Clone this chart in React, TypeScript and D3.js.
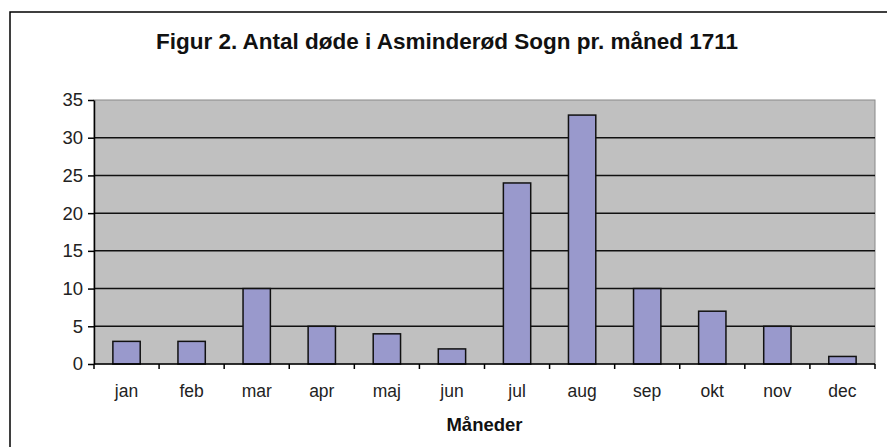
import { useEffect, useRef } from "react";
import * as d3 from "d3";

const months = ["jan", "feb", "mar", "apr", "maj", "jun", "jul", "aug", "sep", "okt", "nov", "dec"];
const deaths = [3, 3, 10, 5, 4, 2, 24, 33, 10, 7, 5, 1];
const yTicks = [0, 5, 10, 15, 20, 25, 30, 35];

const title = "Figur 2. Antal døde i Asminderød Sogn pr. måned 1711";
const xTitle = "Måneder";

const width = 887;
const height = 447;

const marginTop = 100;
const marginBottom = 83;
const marginLeft = 94;
const marginRight = 12;

const font = "Liberation Sans, Arial, sans-serif";

const App = () => {
  const xAxisRef = useRef<SVGGElement>(null);
  const yAxisRef = useRef<SVGGElement>(null);

  const chartBottomY = height - marginBottom;

  const xScale = d3.scaleBand().domain(months).range([marginLeft, width - marginRight]);
  const bandPad = 0.29;

  const yScale = d3.scaleLinear().domain([0, 35]).range([chartBottomY, marginTop]);

  useEffect(() => {
    // x axis: ticks sit on the category boundaries, labels in the middle
    const gx = d3.select(xAxisRef.current);
    gx.selectAll("*").remove();
    gx.append("line")
      .attr("x1", marginLeft)
      .attr("x2", width - marginRight)
      .attr("stroke", "#000")
      .attr("stroke-width", 1.5);
    const bounds = months.map((m) => xScale(m) as number).concat([width - marginRight]);
    gx.selectAll(".tick")
      .data(bounds)
      .join("line")
      .attr("x1", (d) => d)
      .attr("x2", (d) => d)
      .attr("y1", 0)
      .attr("y2", 5)
      .attr("stroke", "#000")
      .attr("stroke-width", 1.5);
    gx.selectAll(".lbl")
      .data(months)
      .join("text")
      .attr("x", (d) => (xScale(d) as number) + xScale.bandwidth() / 2)
      .attr("y", 33)
      .attr("text-anchor", "middle")
      .attr("font-size", 17.5)
      .attr("font-family", font)
      .attr("fill", "#222")
      .text((d) => d);

    const yAxis = d3.axisLeft(yScale).tickValues(yTicks).tickSize(6).tickSizeOuter(0).tickPadding(5);
    const gy = d3.select(yAxisRef.current);
    gy.call(yAxis);
    gy.select(".domain").attr("stroke-width", 1.5);
    gy.selectAll(".tick line").attr("stroke-width", 1.5);
    gy.selectAll("text")
      .attr("font-size", 18.5)
      .attr("font-family", font)
      .attr("fill", "#222");
  }, []);

  return (
    <svg
      width={width}
      height={height}
      viewBox={`0 0 ${width} ${height}`}
      style={{ position: "absolute", left: 0, top: 0, background: "#fff" }}
    >
      <rect x={10} y={12} width={1000} height={1000} fill="#fff" stroke="#000" strokeWidth={1.5} />
      <text x={447} y={49} textAnchor="middle" fontSize={22.5} fontWeight="bold" fontFamily={font} fill="#111">
        {title}
      </text>
      <rect
        x={marginLeft}
        y={marginTop}
        width={width - marginRight - marginLeft}
        height={chartBottomY - marginTop}
        fill="#c0c0c0"
        stroke="#888"
        strokeWidth={1}
      />
      <g className="grid">
        {yTicks.slice(1, -1).map((t) => (
          <line
            key={t}
            x1={marginLeft}
            x2={width - marginRight}
            y1={yScale(t)}
            y2={yScale(t)}
            stroke="#111"
            strokeWidth={1.5}
          />
        ))}
      </g>
      <g className="bars">
        {months.map((m, i) => (
          <rect
            key={m}
            x={(xScale(m) as number) + xScale.bandwidth() * bandPad}
            y={yScale(deaths[i])}
            width={xScale.bandwidth() * (1 - 2 * bandPad)}
            height={chartBottomY - yScale(deaths[i])}
            fill="#9999cc"
            stroke="#111"
            strokeWidth={1.5}
          />
        ))}
      </g>
      <g ref={xAxisRef} transform={`translate(0,${chartBottomY})`}></g>
      <g ref={yAxisRef} transform={`translate(${marginLeft},0)`}></g>
      <text
        x={(marginLeft + width - marginRight) / 2}
        y={431}
        textAnchor="middle"
        fontSize={18.5}
        fontWeight="bold"
        fontFamily={font}
        fill="#111"
      >
        {xTitle}
      </text>
    </svg>
  );
};

export default App;
